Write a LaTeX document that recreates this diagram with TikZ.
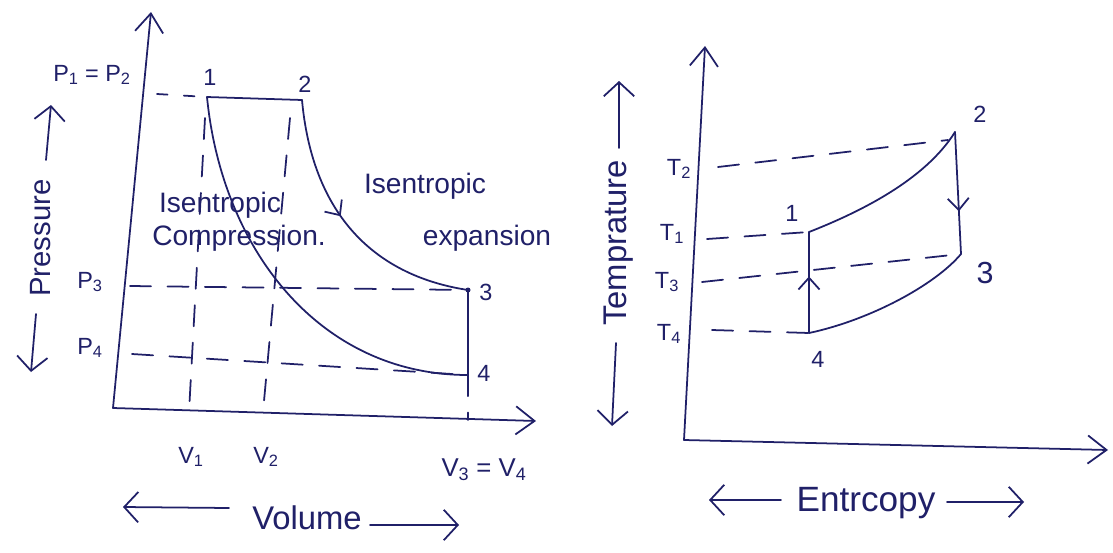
\documentclass[tikz,border=0pt]{standalone}
\usepackage{fontspec}
\setmainfont{Liberation Sans}
\usetikzlibrary{arrows.meta,decorations.markings}
\definecolor{inkc}{RGB}{32,32,104}
\begin{document}
\begin{tikzpicture}[x=0.03cm,y=-0.03cm,
 ink/.style={draw=inkc,line width=1.5pt,line cap=round,line join=round},
 dline/.style={ink,dash pattern=on 18pt off 14pt},
 axhead/.style={-{Straight Barb[length=16pt,width=24pt]}},
 lblhead/.style={-{Straight Barb[length=12pt,width=26pt]}},
 lbl/.style={text=inkc,inner sep=0pt,font=\fontsize{20}{22}\selectfont},
 big/.style={text=inkc,inner sep=0pt,font=\fontsize{24}{26}\selectfont},
 huge/.style={text=inkc,inner sep=0pt,font=\fontsize{28}{30}\selectfont},
 midarrow/.style={postaction={decorate,decoration={markings,mark=at position #1 with {\arrow{Straight Barb[length=10pt,width=18pt]}}}}}
]
\useasboundingbox[fill=white] (0,0) rectangle (1113,552);

% ---------- P-V diagram ----------
\coordinate (O1) at (113,408);
\coordinate (Y1) at (151,12);
\coordinate (X1) at (536,421);
\draw[ink,axhead] (O1) -- (Y1);
\draw[ink,axhead] (O1) -- (X1);

\coordinate (p1) at (207,97);
\coordinate (p2) at (302,100);
\coordinate (p3) at (468,290);
\coordinate (p4) at (468,375);

\draw[ink] (p1) -- (p2);
\draw[ink,midarrow=0.45] (p2) .. controls (312,210) and (370,275) .. (p3);
\draw[ink] (p3) -- (p4);
\draw[ink] (p1) .. controls (222,250) and (320,375) .. (p4);
\fill[inkc] (p3) circle (2.5);

\coordinate (a1) at (157,94);
\coordinate (a3) at (130,286);
\coordinate (a4) at (132,354);
\coordinate (v1t) at (205,118);
\coordinate (v1b) at (189,412);
\coordinate (v2t) at (290,118);
\coordinate (v2b) at (263,412);
\coordinate (v3b) at (468,420);
\draw[ink,dash pattern=on 9pt off 14pt] (a1) -- (p1);
\draw[dline] (a3) -- (p3);
\draw[dline] (a4) -- (p4);
\draw[dline] (v1t) -- (v1b);
\draw[dline] (v2t) -- (v2b);
\draw[dline] (p4) -- (v3b);

\node[lbl] (lP12) at (92,75) {P\textsubscript{1} = P\textsubscript{2}};
\node[lbl] (lP3) at (90,282) {P\textsubscript{3}};
\node[lbl] (lP4) at (90,348) {P\textsubscript{4}};
\node[lbl] (n1) at (210,77) {1};
\node[lbl] (n2) at (305,84) {2};
\node[lbl] (n3) at (486,292) {3};
\node[lbl] (n4) at (484,373) {4};
\node[lbl] (lV1) at (191,457) {V\textsubscript{1}};
\node[lbl] (lV2) at (266,457) {V\textsubscript{2}};
\node[lbl,font=\fontsize{22}{24}\selectfont] (lV34) at (484,470) {V\textsubscript{3} = V\textsubscript{4}};

\node[big] (lc1) at (220,205) {Isentropic};
\node[big] (lc2) at (239,238) {Compression.};
\node[big] (le1) at (425,186) {Isentropic};
\node[big] (le2) at (487,238) {expansion};

\node[huge,font=\fontsize{25}{27}\selectfont,rotate=90] (lpress) at (41,238) {Pressure};
\coordinate (pa1) at (36,314);
\coordinate (pa2) at (31,372);
\coordinate (pa3) at (46,160);
\coordinate (pa4) at (51,105);
\draw[ink,lblhead] (pa1) -- (pa2);
\draw[ink,lblhead] (pa3) -- (pa4);

\node[huge] (lvol) at (307,518) {Volume};
\coordinate (va1) at (229,508);
\coordinate (va2) at (123,507);
\coordinate (va3) at (370,525);
\coordinate (va4) at (459,525);
\draw[ink,lblhead] (va1) -- (va2);
\draw[ink,lblhead] (va3) -- (va4);

% ---------- T-S diagram ----------
\coordinate (O2) at (684,440);
\coordinate (Y2) at (705,46);
\coordinate (X2) at (1108,450);
\draw[ink,axhead] (O2) -- (Y2);
\draw[ink,axhead] (O2) -- (X2);

\coordinate (s1) at (809,232);
\coordinate (s2) at (955,132);
\coordinate (s3) at (961,254);
\coordinate (s4) at (809,333);

\draw[ink] (s1) .. controls (860,212) and (925,180) .. (s2);
\draw[ink,midarrow=0.65] (s2) -- (s3);
\draw[ink] (s3) .. controls (935,285) and (870,320) .. (s4);
\draw[ink,midarrow=0.56] (s4) -- (s1);

\coordinate (t2s) at (718,167);
\coordinate (t2e) at (948,140);
\coordinate (t1s) at (707,239);
\coordinate (t3s) at (702,282);
\coordinate (t4s) at (712,330);
\draw[dline] (t2s) -- (t2e);
\draw[dline] (t1s) -- (s1);
\draw[dline] (t3s) -- (s3);
\draw[dline] (t4s) -- (s4);

\node[lbl] (lT2) at (679,169) {T\textsubscript{2}};
\node[lbl] (lT1) at (672,234) {T\textsubscript{1}};
\node[lbl] (lT3) at (667,282) {T\textsubscript{3}};
\node[lbl] (lT4) at (669,334) {T\textsubscript{4}};
\node[lbl] (m1) at (792,213) {1};
\node[lbl] (m2) at (980,114) {2};
\node[lbl,font=\fontsize{26}{28}\selectfont] (m3) at (985,273) {3};
\node[lbl] (m4) at (818,359) {4};

\node[huge,rotate=90] (ltemp) at (619,243) {Temprature};
\coordinate (ta1) at (619,148);
\coordinate (ta2) at (619,81);
\coordinate (ta3) at (616,343);
\coordinate (ta4) at (612,426);
\draw[ink,lblhead] (ta1) -- (ta2);
\draw[ink,lblhead] (ta3) -- (ta4);

\node[huge,font=\fontsize{30}{32}\selectfont] (lent) at (866,503) {Entrcopy};
\coordinate (ea1) at (781,500);
\coordinate (ea2) at (709,500);
\coordinate (ea3) at (947,502);
\coordinate (ea4) at (1024,502);
\draw[ink,lblhead] (ea1) -- (ea2);
\draw[ink,lblhead] (ea3) -- (ea4);
\end{tikzpicture}
\end{document}
